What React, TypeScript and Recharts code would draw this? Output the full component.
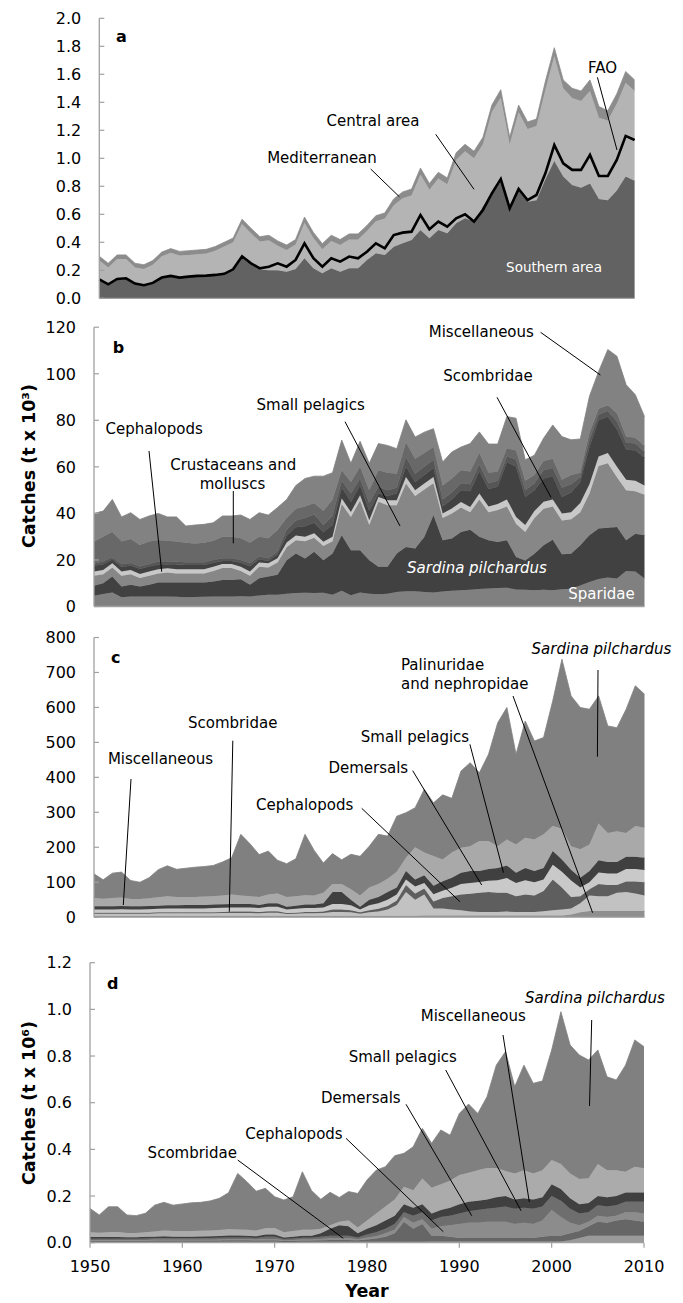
import React from 'react';
import { ComposedChart, Area, Line, XAxis, YAxis } from 'recharts';

const FONT = '"DejaVu Sans", Verdana, sans-serif';

const years = [
  1950, 1951, 1952, 1953, 1954, 1955, 1956, 1957, 1958, 1959,
  1960, 1961, 1962, 1963, 1964, 1965, 1966, 1967, 1968, 1969,
  1970, 1971, 1972, 1973, 1974, 1975, 1976, 1977, 1978, 1979,
  1980, 1981, 1982, 1983, 1984, 1985, 1986, 1987, 1988, 1989,
  1990, 1991, 1992, 1993, 1994, 1995, 1996, 1997, 1998, 1999,
  2000, 2001, 2002, 2003, 2004, 2005, 2006, 2007, 2008, 2009, 2010,
];
const yearTicks = [1950, 1960, 1970, 1980, 1990, 2000, 2010];

// ---------- Panel a (t x 10^6) ----------
const aSouthern = [
  0.13, 0.095, 0.13, 0.14, 0.10, 0.09, 0.105, 0.145, 0.155, 0.145,
  0.15, 0.155, 0.158, 0.163, 0.17, 0.20, 0.29, 0.24, 0.205, 0.20,
  0.20, 0.19, 0.21, 0.286, 0.214, 0.179, 0.214, 0.19, 0.214, 0.214,
  0.274, 0.321, 0.31, 0.369, 0.393, 0.417, 0.488, 0.429, 0.488, 0.464,
  0.536, 0.571, 0.548, 0.655, 0.75, 0.83, 0.64, 0.77, 0.69, 0.70,
  0.85, 0.98, 0.87, 0.81, 0.79, 0.82, 0.71, 0.70, 0.77, 0.87, 0.84,
];
const aCentral = [
  0.14, 0.125, 0.15, 0.14, 0.12, 0.12, 0.135, 0.155, 0.17, 0.16,
  0.16, 0.16, 0.162, 0.177, 0.20, 0.20, 0.24, 0.225, 0.20, 0.215,
  0.175, 0.155, 0.175, 0.254, 0.216, 0.171, 0.196, 0.19, 0.206, 0.206,
  0.206, 0.229, 0.26, 0.296, 0.322, 0.318, 0.397, 0.346, 0.367, 0.351,
  0.454, 0.479, 0.452, 0.445, 0.58, 0.605, 0.46, 0.56, 0.52, 0.53,
  0.64, 0.75, 0.63, 0.62, 0.62, 0.66, 0.58, 0.57, 0.62, 0.67, 0.64,
];
const aMediterranean = [
  0.03, 0.03, 0.03, 0.03, 0.03, 0.03, 0.03, 0.03, 0.03, 0.03,
  0.03, 0.03, 0.03, 0.03, 0.03, 0.03, 0.035, 0.035, 0.035, 0.035,
  0.035, 0.035, 0.035, 0.04, 0.04, 0.04, 0.04, 0.04, 0.04, 0.04,
  0.04, 0.04, 0.04, 0.045, 0.045, 0.045, 0.045, 0.045, 0.045, 0.045,
  0.05, 0.05, 0.05, 0.05, 0.05, 0.055, 0.05, 0.05, 0.05, 0.05,
  0.06, 0.06, 0.06, 0.07, 0.07, 0.08, 0.08, 0.07, 0.07, 0.08, 0.08,
];
const aFAO = [
  0.136, 0.10, 0.138, 0.143, 0.105, 0.093, 0.11, 0.148, 0.16, 0.148,
  0.155, 0.16, 0.162, 0.167, 0.175, 0.207, 0.30, 0.25, 0.214, 0.226,
  0.25, 0.226, 0.274, 0.393, 0.286, 0.226, 0.286, 0.262, 0.298, 0.286,
  0.333, 0.393, 0.357, 0.452, 0.469, 0.476, 0.595, 0.493, 0.548, 0.512,
  0.571, 0.60, 0.548, 0.631, 0.75, 0.852, 0.643, 0.781, 0.702, 0.738,
  0.893, 1.095, 0.964, 0.917, 0.917, 1.024, 0.874, 0.874, 0.988, 1.16, 1.131,
];

// ---------- Panel b (t x 10^3) ----------
const bSparidae = [
  4.6, 5.4, 6.0, 4.0, 4.3, 4.3, 4.3, 4.3, 4.3, 4.2,
  4.0, 4.1, 4.2, 4.3, 4.3, 4.3, 4.4, 4.3, 4.7, 5.0,
  5.1, 5.5, 5.8, 5.9, 5.8, 5.9, 5.0, 6.8, 4.8, 6.0,
  5.5, 5.3, 5.5, 6.2, 6.5, 6.5, 6.2, 6.0, 6.4, 6.8,
  7.0, 7.2, 7.5, 7.7, 7.9, 8.1, 7.3, 7.2, 7.0, 7.2,
  7.0, 7.4, 7.6, 9.0, 10.5, 11.8, 12.5, 12.0, 15.2, 15.0, 12.0,
];
const bSardina = [
  4.3, 4.6, 6.9, 4.6, 5.0, 4.3, 5.0, 6.0, 6.0, 6.1,
  6.3, 6.2, 6.1, 6.4, 7.1, 7.1, 7.3, 5.0, 7.4, 7.9,
  8.5, 14.4, 17.0, 14.7, 17.7, 14.0, 17.8, 23.8, 19.4, 18.2,
  14.4, 11.8, 11.6, 16.6, 19.1, 18.4, 23.7, 33.2, 22.1, 22.4,
  25.0, 25.8, 22.5, 20.8, 19.8, 20.4, 14.0, 12.6, 15.7, 19.1,
  21.7, 15.0, 15.1, 17.3, 20.1, 21.7, 21.3, 22.2, 13.3, 16.3, 18.6,
];
const bSmallPelagics = [
  4.3, 3.9, 3.9, 4.6, 4.6, 3.6, 3.9, 3.9, 4.3, 3.9,
  3.9, 3.9, 3.9, 4.6, 5.1, 5.1, 3.6, 3.9, 5.0, 3.9,
  5.3, 5.6, 5.7, 7.4, 6.0, 6.1, 5.2, 13.4, 14.3, 21.3,
  15.1, 27.9, 26.4, 20.7, 27.2, 22.6, 20.4, 13.8, 9.5, 10.8,
  10.5, 7.5, 16.0, 12.0, 13.8, 14.5, 14.2, 12.2, 15.3, 15.7,
  14.3, 14.6, 14.8, 14.2, 17.9, 26.9, 27.7, 21.3, 21.5, 18.2, 17.4,
];
const bCephalopods = [
  1.8, 1.8, 1.8, 1.8, 1.8, 1.8, 1.8, 1.8, 1.8, 1.8,
  1.8, 1.8, 1.8, 1.8, 1.8, 1.8, 1.8, 1.8, 1.8, 1.8,
  1.8, 2.0, 2.0, 2.0, 2.0, 1.8, 2.0, 2.4, 2.1, 2.3,
  2.1, 2.0, 2.1, 2.1, 2.8, 2.4, 2.5, 2.6, 2.0, 2.1,
  2.4, 2.3, 2.5, 2.5, 2.5, 3.0, 3.0, 3.0, 3.0, 3.0,
  3.0, 3.0, 3.0, 4.0, 4.0, 4.0, 4.5, 4.5, 4.5, 4.5, 4.0,
];
const bScombridae = [
  2.5, 2.5, 1.6, 2.0, 1.9, 2.1, 2.2, 2.0, 1.8, 2.0,
  1.8, 1.8, 1.8, 1.7, 1.3, 1.3, 1.7, 2.3, 1.4, 1.0,
  1.7, 3.0, 3.5, 4.5, 4.5, 4.2, 5.0, 4.6, 4.4, 4.2,
  3.9, 1.5, 1.9, 2.9, 4.4, 3.6, 3.7, 3.9, 3.0, 3.9,
  5.1, 6.7, 9.5, 7.5, 7.5, 16.0, 21.5, 12.0, 9.0, 10.0,
  10.0, 7.0, 8.5, 9.0, 16.0, 15.6, 15.5, 16.0, 13.0, 13.0, 12.0,
];
const bDemersals = [
  1.0, 1.1, 1.0, 1.2, 1.1, 1.1, 1.1, 1.3, 1.1, 1.2,
  1.2, 1.2, 1.2, 1.2, 1.1, 1.1, 1.2, 1.3, 1.2, 1.1,
  1.2, 2.5, 3.0, 3.5, 3.5, 3.0, 4.0, 3.0, 3.5, 3.0,
  3.5, 3.0, 2.5, 2.5, 4.2, 3.5, 3.5, 3.5, 3.0, 3.0,
  3.0, 3.0, 3.0, 2.5, 2.5, 2.5, 3.0, 3.0, 3.0, 3.5,
  3.5, 4.0, 3.5, 2.0, 3.0, 2.5, 2.5, 3.5, 3.0, 3.0, 2.5,
];
const bCrustMolluscs = [
  9.4, 10.7, 10.9, 9.7, 10.3, 9.2, 9.6, 9.3, 9.0, 8.7,
  8.4, 8.1, 8.4, 8.3, 9.3, 9.3, 9.3, 8.8, 8.5, 8.6,
  9.3, 5.0, 5.0, 5.0, 5.0, 6.0, 7.0, 4.5, 5.0, 5.0,
  5.5, 7.0, 7.5, 6.0, 6.4, 6.5, 6.0, 5.5, 6.0, 6.0,
  5.5, 5.5, 5.0, 4.5, 4.0, 3.5, 4.0, 4.0, 3.5, 4.0,
  4.0, 3.5, 4.0, 2.0, 3.0, 2.5, 2.5, 3.5, 2.5, 2.5, 2.5,
];
const bMiscellaneous = [
  12.1, 11.0, 13.9, 10.6, 11.3, 11.0, 11.0, 11.4, 10.2, 10.6,
  7.2, 7.9, 7.9, 7.7, 8.9, 8.9, 10.0, 10.0, 10.3, 10.0,
  9.6, 8.0, 10.0, 12.0, 11.5, 15.0, 11.5, 13.0, 8.0, 11.0,
  11.5, 11.5, 11.7, 10.8, 9.6, 9.3, 8.9, 7.9, 10.1, 11.4,
  10.0, 12.0, 9.0, 12.3, 11.8, 13.6, 13.9, 9.0, 8.5, 9.8,
  14.5, 18.5, 15.1, 14.5, 15.8, 16.0, 23.9, 24.5, 22.3, 18.5, 12.6,
];

// ---------- Panel c (t x 10^3) ----------
const cPalinuridae = [
  4, 4, 4, 4, 4, 4, 4, 4, 4, 4,
  4, 4, 4, 4, 4, 4, 4, 4, 4, 4,
  4, 4, 4, 4, 4, 4, 4, 4, 4, 4,
  4, 4, 4, 4, 4, 4, 5, 5, 5, 5,
  5, 5, 5, 5, 5, 5, 5, 5, 5, 5,
  5, 5, 8, 14, 18, 18, 18, 18, 18, 18, 18,
];
const cScombridae = [
  6, 6, 6, 6, 6, 6, 6, 7, 7, 7,
  7, 7, 7, 7, 8, 8, 8, 8, 7, 9,
  9, 5, 6, 7, 7, 8, 11, 11, 10, 6,
  10, 12, 18, 31, 68, 46, 60, 20, 20, 17,
  15, 11, 10, 10, 10, 11, 10, 10, 10, 12,
  15, 17, 17, 26, 44, 42, 42, 52, 54, 50, 44,
];
const cCephalopods = [
  3, 3, 3, 3, 3, 3, 3, 3, 3, 3,
  3, 3, 3, 3, 3, 4, 4, 4, 4, 4,
  4, 3, 3, 4, 4, 4, 7, 7, 6, 4,
  6, 8, 10, 13, 20, 18, 17, 20, 30, 38,
  45, 51, 55, 57, 55, 54, 45, 50, 47, 58,
  88, 63, 33, 20, 18, 35, 32, 22, 30, 34, 38,
];
const cDemersals = [
  9, 9, 9, 10, 9, 9, 10, 10, 11, 11,
  11, 11, 11, 12, 12, 12, 12, 12, 11, 13,
  13, 10, 11, 11, 11, 12, 16, 16, 14, 8,
  14, 16, 18, 17, 16, 20, 16, 21, 21, 24,
  30, 31, 31, 32, 36, 42, 38, 41, 38, 33,
  42, 45, 47, 25, 20, 33, 33, 33, 36, 36, 35,
];
const cSmallPelagics = [
  9, 9, 9, 9, 9, 9, 9, 9, 9, 9,
  10, 10, 10, 10, 10, 10, 10, 10, 9, 10,
  10, 8, 9, 10, 10, 12, 34, 34, 16, 8,
  16, 18, 22, 20, 24, 20, 22, 24, 27, 29,
  32, 34, 31, 34, 35, 36, 29, 35, 32, 33,
  39, 35, 31, 28, 32, 35, 33, 33, 35, 35, 35,
];
const cMiscellaneous = [
  24, 22, 24, 24, 21, 21, 22, 24, 26, 24,
  23, 23, 24, 24, 25, 27, 24, 22, 23, 25,
  28, 28, 27, 27, 26, 30, 23, 23, 30, 32,
  35, 37, 38, 45, 38, 92, 65, 85, 62, 72,
  72, 71, 86, 80, 62, 74, 81, 86, 90, 96,
  72, 88, 67, 81, 76, 105, 83, 88, 68, 88, 86,
];
const cSardina = [
  69, 54, 71, 73, 53, 48, 59, 79, 87, 79,
  82, 85, 86, 88, 96, 105, 175, 150, 121, 124,
  95, 95, 107, 174, 129, 85, 87, 69, 100, 112,
  118, 142, 122, 159, 129, 113, 181, 152, 185, 155,
  219, 239, 195, 248, 353, 378, 258, 334, 282, 277,
  358, 485, 430, 406, 387, 365, 306, 296, 354, 401, 382,
];

// ---------- Panel d (t x 10^6) ----------
const dScombridae = [
  0.004, 0.004, 0.004, 0.004, 0.004, 0.004, 0.004, 0.004, 0.004, 0.004,
  0.004, 0.004, 0.004, 0.004, 0.004, 0.004, 0.004, 0.004, 0.004, 0.004,
  0.004, 0.003, 0.003, 0.004, 0.004, 0.004, 0.004, 0.004, 0.004, 0.004,
  0.004, 0.004, 0.004, 0.004, 0.004, 0.004, 0.004, 0.005, 0.005, 0.005,
  0.005, 0.005, 0.005, 0.005, 0.005, 0.005, 0.005, 0.005, 0.005, 0.005,
  0.005, 0.005, 0.01, 0.02, 0.03, 0.03, 0.03, 0.03, 0.03, 0.03, 0.03,
];
const dCephalopods = [
  0.004, 0.004, 0.004, 0.004, 0.004, 0.004, 0.004, 0.005, 0.005, 0.005,
  0.005, 0.005, 0.005, 0.005, 0.005, 0.006, 0.006, 0.006, 0.005, 0.007,
  0.007, 0.004, 0.005, 0.005, 0.005, 0.006, 0.008, 0.008, 0.008, 0.006,
  0.01, 0.014, 0.021, 0.036, 0.086, 0.056, 0.076, 0.025, 0.025, 0.02,
  0.015, 0.015, 0.015, 0.015, 0.015, 0.015, 0.015, 0.015, 0.015, 0.02,
  0.025, 0.025, 0.03, 0.03, 0.04, 0.06, 0.055, 0.065, 0.07, 0.065, 0.06,
];
const dDemersals = [
  0.004, 0.004, 0.004, 0.004, 0.004, 0.004, 0.004, 0.004, 0.004, 0.004,
  0.004, 0.004, 0.004, 0.004, 0.005, 0.005, 0.005, 0.005, 0.005, 0.005,
  0.005, 0.004, 0.004, 0.005, 0.005, 0.006, 0.008, 0.008, 0.008, 0.005,
  0.008, 0.01, 0.015, 0.015, 0.02, 0.025, 0.02, 0.03, 0.04, 0.05,
  0.06, 0.065, 0.065, 0.07, 0.07, 0.07, 0.06, 0.065, 0.06, 0.07,
  0.11, 0.08, 0.045, 0.025, 0.02, 0.025, 0.025, 0.02, 0.03, 0.035, 0.035,
];
const dSmallPelagics = [
  0.005, 0.005, 0.005, 0.005, 0.005, 0.005, 0.006, 0.006, 0.007, 0.006,
  0.006, 0.006, 0.006, 0.007, 0.007, 0.007, 0.007, 0.007, 0.006, 0.009,
  0.009, 0.005, 0.006, 0.007, 0.007, 0.009, 0.01, 0.01, 0.01, 0.007,
  0.013, 0.017, 0.02, 0.025, 0.02, 0.03, 0.03, 0.035, 0.04, 0.04,
  0.045, 0.05, 0.055, 0.055, 0.06, 0.065, 0.065, 0.065, 0.065, 0.06,
  0.06, 0.07, 0.06, 0.05, 0.04, 0.045, 0.045, 0.045, 0.045, 0.045, 0.05,
];
const dMiscellaneous = [
  0.007, 0.007, 0.007, 0.007, 0.006, 0.006, 0.007, 0.007, 0.008, 0.007,
  0.007, 0.007, 0.008, 0.008, 0.008, 0.009, 0.009, 0.008, 0.008, 0.01,
  0.01, 0.006, 0.008, 0.009, 0.009, 0.015, 0.03, 0.045, 0.04, 0.018,
  0.025, 0.03, 0.035, 0.035, 0.035, 0.035, 0.035, 0.03, 0.03, 0.035,
  0.04, 0.04, 0.04, 0.04, 0.045, 0.045, 0.04, 0.04, 0.04, 0.04,
  0.05, 0.05, 0.045, 0.04, 0.04, 0.04, 0.04, 0.04, 0.04, 0.04, 0.04,
];
const dOthers = [
  0.021, 0.019, 0.021, 0.022, 0.019, 0.019, 0.02, 0.022, 0.024, 0.024,
  0.024, 0.024, 0.024, 0.024, 0.025, 0.027, 0.026, 0.025, 0.024, 0.027,
  0.028, 0.023, 0.024, 0.025, 0.025, 0.02, 0.015, 0.015, 0.025, 0.025,
  0.035, 0.05, 0.06, 0.07, 0.075, 0.075, 0.11, 0.11, 0.11, 0.115,
  0.125, 0.125, 0.13, 0.135, 0.125, 0.107, 0.112, 0.121, 0.112, 0.116,
  0.104, 0.107, 0.107, 0.108, 0.106, 0.137, 0.116, 0.111, 0.089, 0.111, 0.104,
];
const dSardina = [
  0.102, 0.076, 0.109, 0.108, 0.077, 0.074, 0.081, 0.113, 0.121, 0.111,
  0.116, 0.121, 0.122, 0.127, 0.136, 0.156, 0.24, 0.206, 0.169, 0.171,
  0.134, 0.138, 0.147, 0.249, 0.168, 0.126, 0.141, 0.104, 0.124, 0.146,
  0.174, 0.186, 0.171, 0.188, 0.143, 0.186, 0.215, 0.191, 0.233, 0.196,
  0.264, 0.294, 0.244, 0.306, 0.441, 0.512, 0.372, 0.45, 0.386, 0.382,
  0.472, 0.653, 0.55, 0.531, 0.507, 0.489, 0.4, 0.386, 0.457, 0.543, 0.521,
];

const aTicks = [0, 0.2, 0.4, 0.6, 0.8, 1.0, 1.2, 1.4, 1.6, 1.8, 2.0];
const bTicks = [0, 20, 40, 60, 80, 100, 120];
const cTicks = [0, 100, 200, 300, 400, 500, 600, 700, 800];
const dTicks = [0, 0.2, 0.4, 0.6, 0.8, 1.0, 1.2];

function buildRows(cols: Record<string, number[]>) {
  return years.map((year, i) => {
    const r: Record<string, number> = { year };
    Object.keys(cols).forEach((k) => {
      r[k] = cols[k][i];
    });
    return r;
  });
}

const aData = buildRows({ south: aSouthern, central: aCentral, med: aMediterranean, fao: aFAO });
const bData = buildRows({
  s1: bSparidae, s2: bSardina, s3: bSmallPelagics, s4: bCephalopods,
  s5: bScombridae, s6: bDemersals, s7: bCrustMolluscs, s8: bMiscellaneous,
});
const cData = buildRows({
  s1: cPalinuridae, s2: cScombridae, s3: cCephalopods, s4: cDemersals,
  s5: cSmallPelagics, s6: cMiscellaneous, s7: cSardina,
});
const dData = buildRows({
  s1: dScombridae, s2: dCephalopods, s3: dDemersals, s4: dSmallPelagics,
  s5: dMiscellaneous, s6: dOthers, s7: dSardina,
});

const AXIS = '#a0a0a0';

const makeYTick = (fmt: (v: number) => string) => (props: any) => {
  const { x, y, payload } = props;
  return (
    <g>
      <line x1={x + 18} x2={x + 23} y1={y} y2={y} stroke={AXIS} strokeWidth={1.2} />
      <text x={x} y={y} dy="0.36em" textAnchor="end" fontSize={16} fontFamily={FONT} fill="#000">
        {fmt(payload.value)}
      </text>
    </g>
  );
};

const XTick = (props: any) => {
  const { x, y, payload } = props;
  return (
    <text x={x} y={y} dy="0.71em" textAnchor="middle" fontSize={16} fontFamily={FONT} fill="#000">
      {payload.value}
    </text>
  );
};

const fmt1 = (v: number) => v.toFixed(1);
const fmt0 = (v: number) => String(v);

function areas(keys: string[], colors: string[]) {
  return keys.map((k, i) => (
    <Area
      key={k}
      type="linear"
      dataKey={k}
      stackId="1"
      fill={colors[i]}
      fillOpacity={1}
      stroke={colors[i]}
      strokeWidth={0.8}
      dot={false}
      activeDot={false}
      isAnimationActive={false}
    />
  ));
}

type PanelProps = {
  top: number;
  height: number;
  data: any[];
  margin: { top: number; right: number; bottom: number; left: number };
  yWidth: number;
  xHeight: number;
  domain: [number, number];
  ticks: number[];
  fmt: (v: number) => string;
  showX: boolean;
  children: React.ReactNode;
};

function Panel(p: PanelProps) {
  return (
    <div style={{ position: 'absolute', left: 0, top: p.top, width: 683, height: p.height }}>
      <ComposedChart width={683} height={p.height} data={p.data} margin={p.margin}>
        <XAxis
          dataKey="year"
          type="number"
          domain={[1950, 2010]}
          ticks={yearTicks}
          interval={0}
          height={p.xHeight}
          axisLine={{ stroke: AXIS, strokeWidth: 1.3 }}
          tickLine={{ stroke: AXIS, strokeWidth: 1.2 }}
          tickSize={5}
          tickMargin={13}
          tick={p.showX ? <XTick /> : false}
        />
        <YAxis
          type="number"
          domain={p.domain}
          ticks={p.ticks}
          interval={0}
          width={p.yWidth}
          axisLine={{ stroke: AXIS, strokeWidth: 1.3 }}
          tickLine={false}
          tickSize={0}
          tickMargin={18}
          tick={makeYTick(p.fmt)}
        />
        {p.children}
      </ComposedChart>
    </div>
  );
}

type Lbl = { x: number; y: number; t: string; a?: 'start' | 'middle' | 'end'; it?: boolean; w?: boolean; s?: number };

const labels: Lbl[] = [
  // a
  { x: 373, y: 126, t: 'Central area' },
  { x: 322, y: 163, t: 'Mediterranean' },
  { x: 602.6, y: 73, t: 'FAO' },
  { x: 554, y: 272, t: 'Southern area', w: true, s: 13.5 },
  // b
  { x: 481.3, y: 337, t: 'Miscellaneous' },
  { x: 488, y: 381, t: 'Scombridae' },
  { x: 310.7, y: 409.5, t: 'Small pelagics' },
  { x: 154.2, y: 434, t: 'Cephalopods' },
  { x: 233.2, y: 470, t: 'Crustaceans and' },
  { x: 232.5, y: 489, t: 'molluscs' },
  { x: 477, y: 572.7, t: 'Sardina pilchardus', it: true, w: true },
  { x: 601.5, y: 599.3, t: 'Sparidae', w: true },
  // c
  { x: 601.5, y: 654, t: 'Sardina pilchardus', it: true },
  { x: 401, y: 670, t: 'Palinuridae', a: 'start' },
  { x: 401, y: 689.3, t: 'and nephropidae', a: 'start' },
  { x: 232.7, y: 728.3, t: 'Scombridae' },
  { x: 415, y: 741.5, t: 'Small pelagics' },
  { x: 160.5, y: 763.5, t: 'Miscellaneous' },
  { x: 368.3, y: 773, t: 'Demersals' },
  { x: 304.7, y: 810, t: 'Cephalopods' },
  // d
  { x: 595, y: 1002.7, t: 'Sardina pilchardus', it: true },
  { x: 473.3, y: 1021, t: 'Miscellaneous' },
  { x: 402.8, y: 1062, t: 'Small pelagics' },
  { x: 360.8, y: 1103, t: 'Demersals' },
  { x: 294, y: 1139.3, t: 'Cephalopods' },
  { x: 192.3, y: 1157.7, t: 'Scombridae' },
];

const leaders: number[][] = [
  [435.7, 134.3, 474, 189.3],
  [370.7, 169, 399.3, 196.7],
  [597.4, 77.3, 617, 150],
  [540.6, 332.3, 600.4, 375],
  [497, 397.3, 551, 497.3],
  [345, 421.7, 400, 526],
  [149, 451, 161.7, 571.7],
  [233.3, 491, 233.3, 543.3],
  [598, 670, 597.4, 756.7],
  [513, 696, 592.6, 912.7],
  [232.8, 740.7, 229.3, 911.7],
  [469.9, 744.3, 503.5, 872.7],
  [131, 779, 123.3, 905],
  [412.7, 770.7, 481.7, 885],
  [361.7, 808.3, 460, 901.7],
  [591.7, 1020, 589.5, 1106],
  [503, 1035, 529.3, 1202],
  [445.7, 1070, 521, 1210.7],
  [406, 1104.3, 471.7, 1215.7],
  [346, 1138.3, 443.3, 1231.7],
  [237.7, 1160, 343.3, 1238.3],
];

const panelLetters = [
  { x: 116, y: 42, t: 'a' },
  { x: 112.7, y: 353, t: 'b' },
  { x: 111, y: 663, t: 'c' },
  { x: 107, y: 989, t: 'd' },
];

export default function App() {
  return (
    <div style={{ position: 'absolute', left: 0, top: 0, width: 683, height: 1303, background: '#fff', fontFamily: FONT }}>
      <Panel
        top={0}
        height={320}
        data={aData}
        margin={{ top: 18.3, right: 48.4, bottom: 1.7, left: 0 }}
        yWidth={99.3}
        xHeight={20}
        domain={[0, 2]}
        ticks={aTicks}
        fmt={fmt1}
        showX={false}
      >
        {areas(['south', 'central', 'med'], ['#626262', '#b4b4b4', '#8c8c8c'])}
        <Line
          type="linear"
          dataKey="fao"
          stroke="#000"
          strokeWidth={2.6}
          dot={false}
          activeDot={false}
          isAnimationActive={false}
        />
      </Panel>
      <Panel
        top={300}
        height={320}
        data={bData}
        margin={{ top: 27.2, right: 38.5, bottom: 1.5, left: 0 }}
        yWidth={94}
        xHeight={12}
        domain={[0, 120]}
        ticks={bTicks}
        fmt={fmt0}
        showX={false}
      >
        {areas(
          ['s1', 's2', 's3', 's4', 's5', 's6', 's7', 's8'],
          ['#808080', '#414141', '#878787', '#c8c8c8', '#424242', '#565656', '#686868', '#828282']
        )}
      </Panel>
      <Panel
        top={620}
        height={310}
        data={cData}
        margin={{ top: 17.5, right: 38.5, bottom: 0.8, left: 0 }}
        yWidth={94}
        xHeight={12}
        domain={[0, 800]}
        ticks={cTicks}
        fmt={fmt0}
        showX={false}
      >
        {areas(
          ['s1', 's2', 's3', 's4', 's5', 's6', 's7'],
          ['#8f8f8f', '#c2c2c2', '#5e5e5e', '#c9c9c9', '#404040', '#a9a9a9', '#808080']
        )}
      </Panel>
      <Panel
        top={940}
        height={363}
        data={dData}
        margin={{ top: 22.7, right: 39, bottom: 20.3, left: 0 }}
        yWidth={90}
        xHeight={40}
        domain={[0, 1.2]}
        ticks={dTicks}
        fmt={fmt1}
        showX={true}
      >
        {areas(
          ['s1', 's2', 's3', 's4', 's5', 's6', 's7'],
          ['#9a9a9a', '#666666', '#8c8c8c', '#6e6e6e', '#404040', '#ababab', '#808080']
        )}
      </Panel>
      <svg
        width={683}
        height={1303}
        style={{ position: 'absolute', left: 0, top: 0, pointerEvents: 'none' }}
      >
        {leaders.map((l, i) => (
          <line key={'l' + i} x1={l[0]} y1={l[1]} x2={l[2]} y2={l[3]} stroke="#000" strokeWidth={1} />
        ))}
        {labels.map((l, i) => (
          <text
            key={'t' + i}
            x={l.x}
            y={l.y}
            textAnchor={l.a || 'middle'}
            fontSize={l.s || 15}
            fontStyle={l.it ? 'italic' : 'normal'}
            fill={l.w ? '#fff' : '#000'}
            fontFamily={FONT}
          >
            {l.t}
          </text>
        ))}
        {panelLetters.map((p) => (
          <text key={p.t} x={p.x} y={p.y} fontSize={16} fontWeight="bold" fontFamily={FONT} fill="#000">
            {p.t}
          </text>
        ))}
        <text
          transform="translate(35,466) rotate(-90)"
          textAnchor="middle"
          fontSize={17.5}
          fontWeight="bold"
          fontFamily={FONT}
          fill="#000"
        >
          Catches (t x 10³)
        </text>
        <text
          transform="translate(35,1103) rotate(-90)"
          textAnchor="middle"
          fontSize={17.5}
          fontWeight="bold"
          fontFamily={FONT}
          fill="#000"
        >
          Catches (t x 10⁶)
        </text>
        <text x={367} y={1297} textAnchor="middle" fontSize={17.5} fontWeight="bold" fontFamily={FONT} fill="#000">
          Year
        </text>
      </svg>
    </div>
  );
}
